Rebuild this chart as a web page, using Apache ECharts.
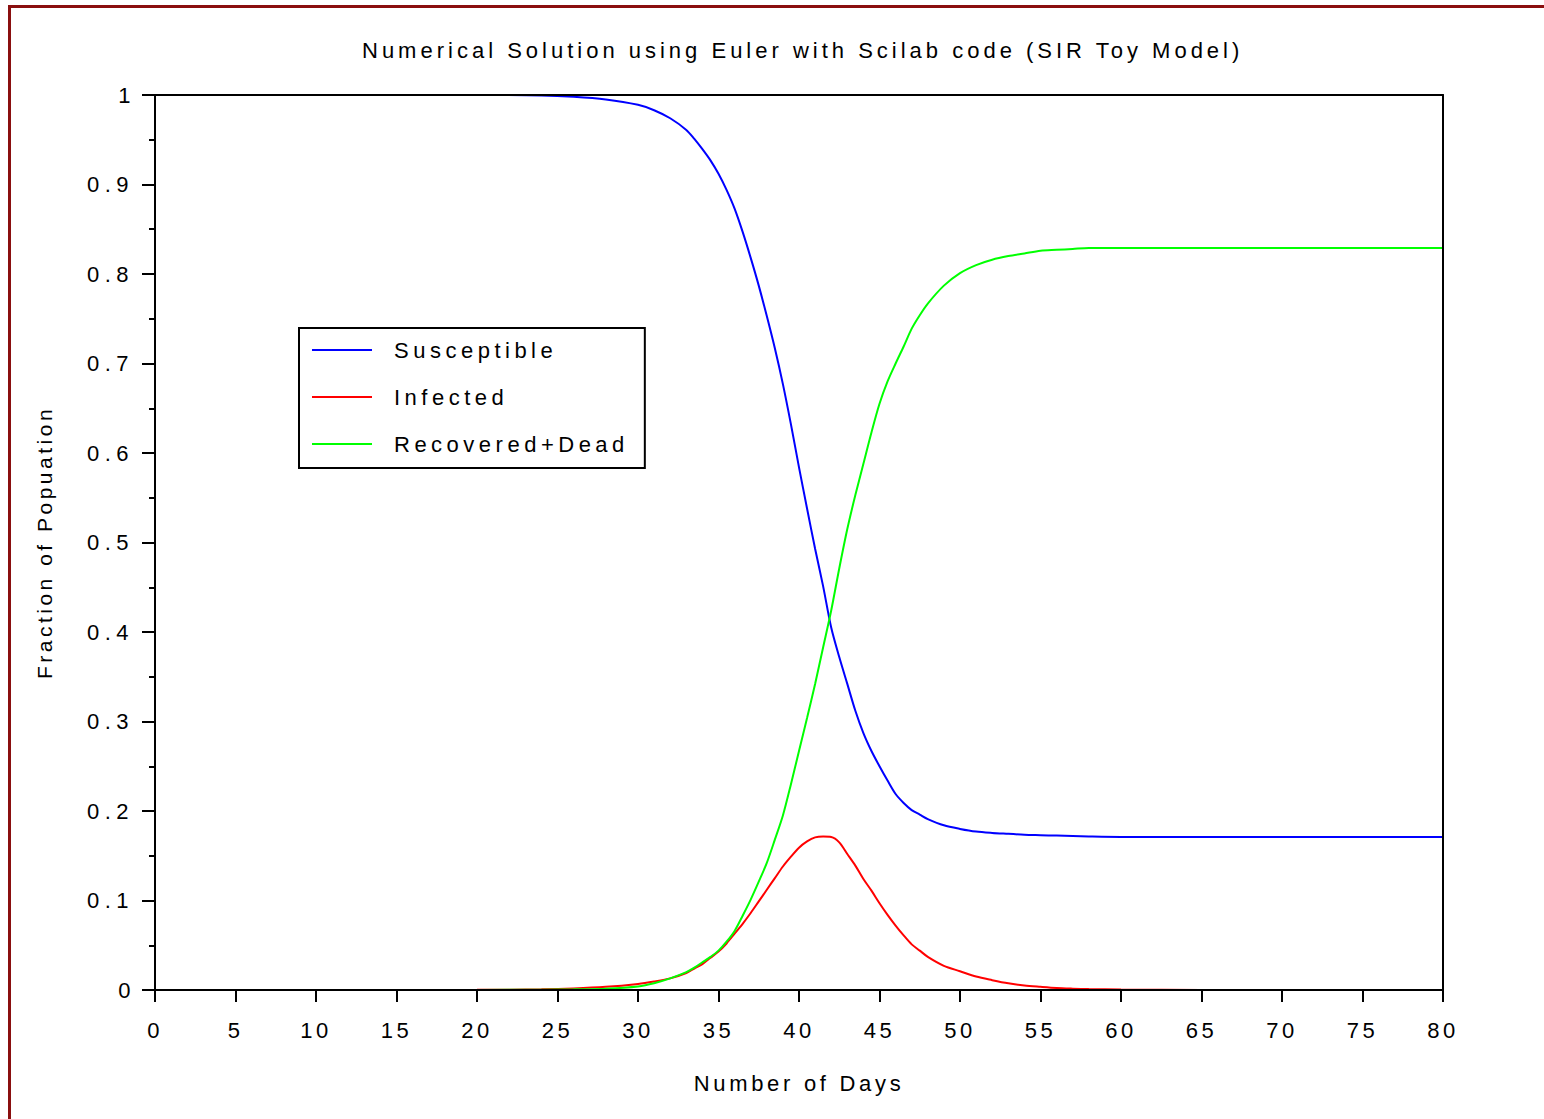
<!DOCTYPE html>
<html>
<head>
<meta charset="utf-8">
<script src="https://cdn.jsdelivr.net/npm/echarts@6/dist/echarts.min.js"></script>
<style>
  html, body { margin: 0; padding: 0; background: #fff; }
  #frame { position: absolute; left: 8px; top: 5px; width: 1600px; height: 1200px;
           border-left: 3px solid #8a0f0f; border-top: 3px solid #8a0f0f; box-sizing: border-box; }
  #chart { position: absolute; left: 0; top: 0; width: 1544px; height: 1119px; }
  #chart text { letter-spacing: 3.5px; }
</style>
</head>
<body>
<div id="frame"></div>
<div id="chart"></div>
<script>
const titleText = 'Numerical Solution using Euler with Scilab code (SIR Toy Model)';
const xName = 'Number of Days';
const yName = 'Fraction of Popuation';
const seriesNames = ['Susceptible', 'Infected', 'Recovered+Dead'];

const days = [0,10,20,24,26,28,30,31,32,33,
  33.5,34,34.5,35,35.5,36,36.5,37,37.5,38,
  38.5,39,39.5,40,40.5,41,41.5,42,42.5,43,
  43.5,44,44.5,45,45.5,46,46.5,47,47.5,48,
  49,50,51,52,53,54,55,56,57,58,
  60,65,70,75,80];

const susceptible = [1,1,1,0.9995,0.998,0.995,0.989,0.983,0.974,0.961,
  0.951,0.9395,0.927,0.912,0.894,0.873,0.847,0.818,0.787,0.753,
  0.717,0.677,0.632,0.584,0.538,0.493,0.451,0.405,0.372,0.342,
  0.312,0.287,0.267,0.250,0.234,0.219,0.209,0.201,0.196,0.191,
  0.184,0.180,0.177,0.1755,0.1745,0.1735,0.173,0.1725,0.172,0.1715,
  0.171,0.171,0.171,0.171,0.171];

const infected = [0,0,0.0002,0.0008,0.0017,0.0035,0.0068,0.0095,0.013,0.019,
  0.024,0.029,0.036,0.043,0.052,0.063,0.074,0.086,0.099,0.112,
  0.125,0.138,0.149,0.159,0.166,0.1705,0.1715,0.171,0.165,0.152,
  0.139,0.124,0.111,0.097,0.084,0.072,0.061,0.051,0.044,0.037,
  0.027,0.021,0.015,0.011,0.0075,0.005,0.0035,0.0022,0.0015,0.001,
  0.0005,0.0001,0,0,0];

const recovered = [0,0,0.0001,0.0003,0.0007,0.0015,0.004,0.0075,0.013,0.020,
  0.025,0.031,0.037,0.044,0.054,0.066,0.083,0.101,0.121,0.142,
  0.168,0.195,0.230,0.267,0.304,0.342,0.383,0.424,0.471,0.515,
  0.553,0.588,0.623,0.655,0.680,0.700,0.719,0.739,0.754,0.767,
  0.787,0.801,0.810,0.816,0.820,0.823,0.826,0.827,0.828,0.829,
  0.829,0.829,0.829,0.829,0.829];

const colors = ['#0000ff', '#ff0000', '#00ff00'];
const valueSets = [susceptible, infected, recovered];

const font = '"Liberation Sans", Arial, Helvetica, sans-serif';

const chart = echarts.init(document.getElementById('chart'), null, { renderer: 'svg' });

const series = valueSets.map((vals, i) => ({
  name: seriesNames[i],
  type: 'line',
  data: days.map((d, k) => [d, vals[k]]),
  showSymbol: false,
  symbol: 'none',
  smooth: 0.3,
  lineStyle: { color: colors[i], width: 2 },
  itemStyle: { color: colors[i] },
  z: 2
}));

chart.setOption({
  animation: false,
  backgroundColor: 'transparent',
  title: {
    text: titleText,
    left: 362,
    top: 38,
    padding: 0,
    textStyle: { fontFamily: font, fontSize: 22, fontWeight: 'normal', color: '#000', lineHeight: 24 }
  },
  legend: {
    orient: 'vertical',
    left: 299,
    top: 328,
    padding: [10, 79, 12, 13],
    itemGap: 23,
    itemWidth: 60,
    itemHeight: 2,
    icon: 'rect',
    borderColor: '#000',
    borderWidth: 2,
    backgroundColor: '#fff',
    data: seriesNames,
    textStyle: { fontFamily: font, fontSize: 22, color: '#000', lineHeight: 24, padding: [0, 0, 0, 17] }
  },
  grid: { left: 155, right: 101, top: 95, bottom: 129, containLabel: false },
  xAxis: [{
    type: 'value', min: 0, max: 80, interval: 5, z: 10,
    name: xName, nameLocation: 'middle', nameGap: 82,
    nameTextStyle: { fontFamily: font, fontSize: 22, color: '#000' },
    axisLine: { show: true, onZero: false, lineStyle: { color: '#000', width: 2 } },
    axisTick: { show: true, inside: false, length: 12, lineStyle: { color: '#000', width: 2 } },
    axisLabel: { fontFamily: font, fontSize: 22, color: '#000', margin: 29 },
    splitLine: { show: false }
  }, {
    type: 'value', min: 0, max: 80, position: 'top', z: 10,
    axisLine: { show: true, onZero: false, lineStyle: { color: '#000', width: 2 } },
    axisTick: { show: false }, axisLabel: { show: false }, splitLine: { show: false }
  }],
  yAxis: [{
    type: 'value', min: 0, max: 1, interval: 0.1, z: 10,
    name: yName, nameLocation: 'middle', nameGap: 100, nameRotate: 90,
    nameTextStyle: { fontFamily: font, fontSize: 21, color: '#000' },
    axisLine: { show: true, onZero: false, lineStyle: { color: '#000', width: 2 } },
    axisTick: { show: true, inside: false, length: 13, lineStyle: { color: '#000', width: 2 } },
    minorTick: { show: true, splitNumber: 2, length: 6, lineStyle: { color: '#000', width: 2 } },
    axisLabel: { fontFamily: font, fontSize: 22, color: '#000', margin: 21,
      formatter: v => (Math.round(v * 10) / 10).toString() },
    splitLine: { show: false }
  }, {
    type: 'value', min: 0, max: 1, position: 'right', z: 10,
    axisLine: { show: true, onZero: false, lineStyle: { color: '#000', width: 2 } },
    axisTick: { show: false }, axisLabel: { show: false }, splitLine: { show: false }
  }],
  series: series
});

function applySpacing() {
  document.querySelectorAll('#chart text').forEach(t => {
    const s = t.textContent;
    if (s === titleText) t.style.letterSpacing = '4px';
    else if (seriesNames.indexOf(s) >= 0) t.style.letterSpacing = '4.5px';
    else if (s === xName) t.style.letterSpacing = '3.7px';
    else if (/^0\.\d$/.test(s)) t.style.letterSpacing = '5.5px';
  });
}
applySpacing();
chart.on('finished', applySpacing);
</script>
</body>
</html>
